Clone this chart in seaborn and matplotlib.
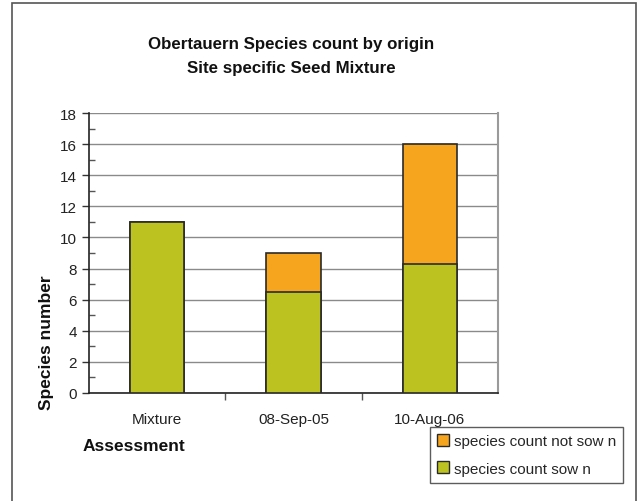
import matplotlib
matplotlib.use("Agg")
import matplotlib.pyplot as plt
from matplotlib.patches import Rectangle
from matplotlib.lines import Line2D
import seaborn as sns
import pandas as pd

# Data
assessments = ["Mixture", "08-Sep-05", "10-Aug-06"]
sown = [11, 6.5, 8.3]
not_sown = [0, 2.5, 7.7]
series_labels = ["species count not sow n", "species count sow n"]

green = "#BCC21F"
orange = "#F6A51E"
edge = "#2a2a2a"

sns.set_theme(style="white")
plt.rcParams["font.family"] = ["Liberation Sans", "DejaVu Sans"]

df = pd.DataFrame({
    "Assessment": assessments,
    "sown": sown,
    "total": [s + n for s, n in zip(sown, not_sown)],
})

fig = plt.figure(figsize=(6.39, 5.02), dpi=100)
W, H = 639, 502
ax = fig.add_axes([89 / W, 1 - 394 / H, (498 - 89) / W, (394 - 114) / H])

# Stacked bars: full height in orange, sown part in green over it
sns.barplot(data=df, x="Assessment", y="total", color=orange, width=0.4,
            edgecolor=edge, linewidth=1.2, saturation=1, ax=ax, zorder=3)
sns.barplot(data=df, x="Assessment", y="sown", color=green, width=0.4,
            edgecolor=edge, linewidth=1.2, saturation=1, ax=ax, zorder=4)

ax.set_xlim(-0.5, 2.5)
ax.set_ylim(0, 18)
ax.set_yticks(range(0, 19, 2))
ax.set_yticks(range(1, 18, 2), minor=True)
ax.yaxis.grid(True, which="major", color="#8a8a8a", linewidth=1.0, zorder=0)
ax.set_axisbelow(True)

ax.set_xticks([0, 1, 2])
ax.set_xticks([0.5, 1.5], minor=True)
ax.tick_params(axis="x", which="major", length=0, labelsize=11, pad=14,
               colors="#222222")
ax.tick_params(axis="x", which="minor", length=5, width=1, color="#555555",
               direction="out", bottom=True)
ax.tick_params(axis="y", which="major", length=5, width=1, direction="out",
               color="#333333", labelsize=11, labelcolor="#222222", left=True)
ax.tick_params(axis="y", which="minor", length=4, width=1, direction="in",
               color="#555555", left=True)

for s in ["left", "bottom"]:
    ax.spines[s].set_color("#222222")
    ax.spines[s].set_linewidth(1.2)
ax.spines["right"].set_color("#9a9a9a")
ax.spines["right"].set_linewidth(1.5)
ax.spines["top"].set_visible(False)

ax.set_xlabel("")
ax.set_ylabel("")

fig.text(47 / W, 1 - 343 / H, "Species number", fontsize=12.5,
         fontweight="bold", rotation=90, ha="center", va="center",
         color="#111111")
fig.text(83 / W, 1 - 447 / H, "Assessment", fontsize=12.5, fontweight="bold",
         ha="left", va="center", color="#111111")

fig.text(291 / W, 1 - 45 / H, "Obertauern Species count by origin",
         fontsize=12.2, fontweight="bold", ha="center", va="center",
         color="#111111")
fig.text(291 / W, 1 - 68 / H, "Site specific Seed Mixture",
         fontsize=12.2, fontweight="bold", ha="center", va="center",
         color="#111111")

# Outer chart frame
fig.patches.append(Rectangle((12 / W, -0.05), (636 - 12) / W, 1.05 - 4 / H,
                             transform=fig.transFigure, fill=False,
                             edgecolor="#555555", linewidth=1.2))

handles = [
    Line2D([], [], marker="s", linestyle="none", markersize=8.5,
           markerfacecolor=orange, markeredgecolor=edge),
    Line2D([], [], marker="s", linestyle="none", markersize=8.5,
           markerfacecolor=green, markeredgecolor=edge),
]
leg = fig.legend(handles, series_labels, loc="upper left",
                 bbox_to_anchor=(430 / W, 1 - 428 / H), frameon=True,
                 fontsize=11, handlelength=0.8, handletextpad=0.3,
                 borderpad=0.45, labelspacing=0.9, fancybox=False,
                 borderaxespad=0)
leg.get_frame().set_edgecolor("#333333")
leg.get_frame().set_linewidth(1.0)

fig.savefig("out.png", dpi=100)
